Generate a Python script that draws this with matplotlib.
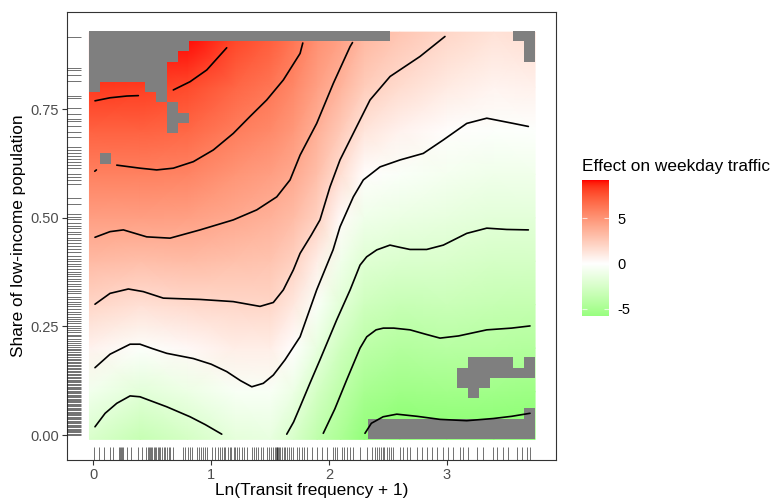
import numpy as np
import matplotlib
matplotlib.use("Agg")
import matplotlib.pyplot as plt
from matplotlib.colors import ListedColormap, Normalize
from matplotlib.transforms import blended_transform_factory

plt.rcParams['font.family'] = ['Liberation Sans', 'DejaVu Sans']

# ---- fitted surface (rows = y nodes, cols = x nodes)
x_nodes = [-0.033, 0.4, 0.8, 1.2, 1.5, 1.7, 1.9, 2.1, 2.3, 2.6, 3.0, 3.4, 3.75]
y_nodes = [-0.01, 0.1, 0.2, 0.3, 0.4, 0.5, 0.6, 0.7, 0.8, 0.927]
effect = [
    [-2.4, -3.5, -2.7, -1.7, -1.5, -2.5, -3.9, -4.9, -6.0, -6.6, -6.5, -6.5, -6.6],
    [-0.8, -1.8, -1.2, -0.5, -0.4, -1.2, -2.7, -3.95, -5.0, -5.45, -5.3, -5.4, -5.5],
    [0.6, -0.15, 0.3, 0.8, 0.8, 0.0, -1.5, -3.0, -4.0, -4.45, -4.2, -4.4, -4.5],
    [2.0, 1.5, 1.8, 1.95, 2.0, 1.1, -0.35, -1.85, -3.0, -3.4, -3.3, -3.5, -3.55],
    [3.3, 3.1, 3.2, 3.0, 2.85, 2.2, 0.85, -0.9, -2.0, -2.3, -2.35, -2.65, -2.65],
    [4.6, 4.6, 4.5, 4.05, 3.7, 3.2, 2.2, 0.25, -0.95, -1.3, -1.5, -1.8, -1.8],
    [5.9, 5.9, 5.75, 5.05, 4.6, 4.1, 3.05, 1.55, 0.1, -0.3, -0.7, -1.0, -0.9],
    [7.1, 7.1, 6.9, 6.05, 5.5, 4.85, 3.8, 2.6, 1.3, 0.65, 0.12, -0.2, -0.1],
    [8.4, 8.3, 7.9, 7.0, 6.35, 5.6, 4.5, 3.55, 2.4, 1.7, 1.0, 0.55, 0.7],
    [9.5, 9.5, 9.2, 8.2, 7.4, 6.5, 5.3, 4.6, 3.5, 2.8, 2.0, 1.4, 1.6],
]
fill_limits = (-5.8, 9.25)

# raster of 40x40 cells, gray where the surface is not shown: (row, first col, last col)
n_grid = 40
raster_extent = [-0.033, 3.75, -0.0099, 0.9268]
gray_runs = [
    (39, 0, 26), (39, 38, 39), (38, 0, 8), (38, 39, 39), (37, 0, 7), (37, 39, 39),
    (36, 0, 6), (35, 0, 6), (34, 0, 0), (34, 5, 6), (33, 6, 6), (32, 7, 7),
    (31, 7, 8), (30, 7, 7), (27, 1, 1),
    (7, 34, 37), (7, 39, 39), (6, 33, 39), (5, 33, 35), (4, 34, 34),
    (2, 39, 39), (1, 25, 39), (0, 25, 39),
]

# ---- contour lines (x, y)
contours = [
    ([2.306, 2.36, 2.46, 2.576, 2.75, 2.943, 3.17, 3.396, 3.55, 3.707],
     [0.004, 0.027, 0.042, 0.048, 0.043, 0.036, 0.033, 0.038, 0.043, 0.05]),
    ([1.952, 2.05, 2.151, 2.264, 2.321, 2.40, 2.462, 2.55, 2.689, 2.82, 2.943, 3.1, 3.34, 3.55, 3.707],
     [0.004, 0.06, 0.127, 0.2, 0.226, 0.242, 0.246, 0.246, 0.242, 0.232, 0.223, 0.228, 0.242, 0.246, 0.251]),
    ([0.014, 0.1, 0.199, 0.312, 0.396, 0.623, 0.821, 0.95, 1.09],
     [0.019, 0.05, 0.073, 0.09, 0.088, 0.065, 0.042, 0.024, 0.002]),
    ([1.642, 1.70, 1.755, 1.84, 1.924, 2.066, 2.18, 2.264, 2.32, 2.406, 2.518, 2.6, 2.688, 2.83,
      2.971, 3.17, 3.34, 3.509, 3.693],
     [0.002, 0.03, 0.065, 0.12, 0.173, 0.265, 0.334, 0.391, 0.41, 0.426, 0.437, 0.432, 0.427, 0.427,
      0.437, 0.464, 0.476, 0.473, 0.472]),
    ([0.014, 0.142, 0.312, 0.396, 0.5, 0.623, 0.849, 1.0, 1.132, 1.25, 1.345, 1.443, 1.528, 1.627,
      1.755, 1.896, 2.035, 2.094, 2.207, 2.292, 2.434, 2.604, 2.801, 2.971, 3.17, 3.34, 3.565, 3.693],
     [0.155, 0.186, 0.209, 0.209, 0.199, 0.188, 0.176, 0.163, 0.146, 0.125, 0.111, 0.119, 0.138, 0.173,
      0.226, 0.334, 0.426, 0.479, 0.548, 0.587, 0.617, 0.633, 0.648, 0.679, 0.717, 0.729, 0.717, 0.71]),
    ([0.014, 0.142, 0.297, 0.424, 0.594, 0.906, 1.188, 1.415, 1.528, 1.613, 1.698, 1.755, 1.85, 1.924,
      2.009, 2.094, 2.236, 2.349, 2.519, 2.773, 2.985],
     [0.301, 0.326, 0.336, 0.33, 0.315, 0.312, 0.307, 0.296, 0.305, 0.334, 0.38, 0.418, 0.46, 0.495,
      0.571, 0.633, 0.71, 0.771, 0.825, 0.871, 0.917]),
    ([0.014, 0.142, 0.255, 0.453, 0.651, 0.906, 1.188, 1.387, 1.557, 1.67, 1.755, 1.896, 2.037, 2.18, 2.2],
     [0.455, 0.468, 0.472, 0.456, 0.453, 0.472, 0.495, 0.518, 0.548, 0.587, 0.644, 0.717, 0.809, 0.894, 0.903]),
    ([0.012, 0.026], [0.607, 0.61]),
    ([0.199, 0.396, 0.538, 0.679, 0.849, 1.019, 1.188, 1.33, 1.472, 1.613, 1.755, 1.778],
     [0.621, 0.614, 0.61, 0.614, 0.629, 0.656, 0.694, 0.733, 0.771, 0.817, 0.878, 0.902]),
    ([0.014, 0.142, 0.284, 0.382], [0.769, 0.776, 0.78, 0.781]),
    ([0.679, 0.821, 0.963, 1.132], [0.794, 0.813, 0.84, 0.891]),
]

# ---- rugs (observations)
rug_x = [0.008, 0.051, 0.091, 0.142, 0.17, 0.221, 0.23, 0.238, 0.246, 0.255, 0.283, 0.32, 0.382,
         0.411, 0.447, 0.46, 0.47, 0.478, 0.49, 0.5, 0.512, 0.52, 0.535, 0.548, 0.556, 0.57, 0.585,
         0.6, 0.612, 0.625, 0.64, 0.651, 0.679, 0.764, 0.78, 0.8, 0.818, 0.835, 0.878, 0.9, 0.915,
         0.93, 0.948, 0.963, 1.005, 1.03, 1.061, 1.076, 1.09, 1.105, 1.12, 1.14, 1.158, 1.17, 1.19,
         1.205, 1.22, 1.24, 1.26, 1.275, 1.302, 1.345, 1.36, 1.38, 1.4, 1.425, 1.443, 1.472, 1.49,
         1.51, 1.528, 1.542, 1.548, 1.555, 1.562, 1.568, 1.575, 1.585, 1.6, 1.615, 1.63, 1.648,
         1.665, 1.68, 1.698, 1.727, 1.75, 1.77, 1.79, 1.812, 1.854, 1.897, 1.94, 1.982, 2.037,
         2.05, 2.066, 2.109, 2.13, 2.15, 2.179, 2.207, 2.264, 2.32, 2.363, 2.391, 2.41, 2.425,
         2.44, 2.455, 2.47, 2.49, 2.51, 2.53, 2.547, 2.604, 2.632, 2.66, 2.688, 2.745, 2.787,
         2.83, 2.872, 2.915, 2.971, 3.013, 3.056, 3.112, 3.14, 3.183, 3.254, 3.31, 3.395, 3.424,
         3.48, 3.522, 3.593, 3.636, 3.678, 3.706]
rug_y = [0.915, 0.845, 0.841, 0.829, 0.815, 0.781, 0.776, 0.752, 0.739, 0.727, 0.723, 0.712, 0.697,
         0.686, 0.662, 0.655, 0.649, 0.641, 0.636, 0.628, 0.621, 0.614, 0.601, 0.593, 0.586, 0.577,
         0.546, 0.531, 0.509, 0.502, 0.497, 0.489, 0.481, 0.476, 0.468, 0.463, 0.454, 0.449, 0.441,
         0.434, 0.428, 0.42, 0.412, 0.405, 0.401, 0.394, 0.389, 0.383, 0.376, 0.371, 0.366, 0.359,
         0.354, 0.347, 0.343, 0.336, 0.331, 0.326, 0.318, 0.312, 0.307, 0.301, 0.296, 0.29, 0.284,
         0.279, 0.272, 0.268, 0.262, 0.257, 0.25, 0.246, 0.241, 0.236, 0.231, 0.228, 0.221, 0.217,
         0.212, 0.208, 0.203, 0.199, 0.195, 0.191, 0.187, 0.183, 0.179, 0.176, 0.172, 0.168, 0.165,
         0.161, 0.158, 0.154, 0.151, 0.147, 0.144, 0.141, 0.137, 0.134, 0.131, 0.127, 0.124, 0.121,
         0.118, 0.114, 0.111, 0.108, 0.105, 0.102, 0.099, 0.096, 0.093, 0.09, 0.087, 0.084, 0.081,
         0.078, 0.075, 0.072, 0.069, 0.066, 0.063, 0.06, 0.057, 0.054, 0.051, 0.048, 0.045, 0.042,
         0.039, 0.036, 0.033, 0.03, 0.027, 0.024, 0.021, 0.018, 0.015, 0.012, 0.009, 0.006, 0.003,
         0.001]

x_ticks = [0, 1, 2, 3]
x_ticklabels = ["0", "1", "2", "3"]
y_ticks = [0.0, 0.25, 0.5, 0.75]
y_ticklabels = ["0.00", "0.25", "0.50", "0.75"]
legend_ticks = [-5, 0, 5]
legend_ticklabels = ["-5", "0", "5"]


# diverging green-white-red palette, interpolated in Lab like ggplot's gradient2
def srgb_to_lab(rgb):
    c = np.asarray(rgb, float)
    lin = np.where(c > 0.04045, ((c + 0.055) / 1.055) ** 2.4, c / 12.92)
    M = np.array([[0.4124, 0.3576, 0.1805], [0.2126, 0.7152, 0.0722], [0.0193, 0.1192, 0.9505]])
    xyz = M @ lin / np.array([0.95047, 1.0, 1.08883])
    f = np.where(xyz > 0.008856, np.cbrt(xyz), 7.787 * xyz + 16 / 116)
    return np.array([116 * f[1] - 16, 500 * (f[0] - f[1]), 200 * (f[1] - f[2])])


def lab_to_srgb(lab):
    L, a, b = lab
    fy = (L + 16) / 116
    f = np.array([fy + a / 500, fy, fy - b / 200])
    xyz = np.where(f > 0.2069, f ** 3, (f - 16 / 116) / 7.787) * np.array([0.95047, 1.0, 1.08883])
    Minv = np.array([[3.2406, -1.5372, -0.4986], [-0.9689, 1.8758, 0.0415], [0.0557, -0.2040, 1.0570]])
    lin = np.clip(Minv @ xyz, 0, 1)
    c = np.where(lin > 0.0031308, 1.055 * lin ** (1 / 2.4) - 0.055, 12.92 * lin)
    return np.clip(c, 0, 1)


low, mid, high = srgb_to_lab([0, 1, 0]), srgb_to_lab([1, 1, 1]), srgb_to_lab([1, 0, 0])
colours = []
for t in np.linspace(0, 1, 256):
    if t < 0.5:
        lab = low + (mid - low) * (t / 0.5)
    else:
        lab = mid + (high - mid) * ((t - 0.5) / 0.5)
    colours.append(lab_to_srgb(lab))
cmap = ListedColormap(colours)
zmax = max(abs(fill_limits[0]), abs(fill_limits[1]))
norm = Normalize(-zmax, zmax)

fig = plt.figure(figsize=(7.74, 5.01), dpi=100)
ax = fig.add_axes([0.0862, 0.0818, 0.6322, 0.8948])

ax.pcolormesh(x_nodes, y_nodes, np.array(effect), shading='gouraud', cmap=cmap, norm=norm,
              rasterized=True, zorder=1)

mask = np.full((n_grid, n_grid), np.nan)
for row, c0, c1 in gray_runs:
    mask[row, c0:c1 + 1] = 1
ax.imshow(mask, origin='lower', extent=raster_extent, aspect='auto', interpolation='nearest',
          cmap=ListedColormap(['#7f7f7f']), vmin=0, vmax=2, zorder=2)

for cx, cy in contours:
    ax.plot(cx, cy, color='black', lw=1.2, solid_capstyle='round', solid_joinstyle='round', zorder=3)

tx = blended_transform_factory(ax.transData, ax.transAxes)
ty = blended_transform_factory(ax.transAxes, ax.transData)
ax.vlines(rug_x, 0, 0.03, transform=tx, color='black', lw=0.6, alpha=0.65, zorder=3)
ax.hlines(rug_y, 0, 0.03, transform=ty, color='black', lw=0.6, alpha=0.65, zorder=3)

ax.set_xlim(-0.226, 3.928)
ax.set_ylim(-0.0575, 0.974)
ax.set_xticks(x_ticks)
ax.set_xticklabels(x_ticklabels)
ax.set_yticks(y_ticks)
ax.set_yticklabels(y_ticklabels)
ax.tick_params(length=3.3, width=0.8, color='#333333', labelcolor='#4d4d4d', labelsize=10.5, pad=2.5)
for s in ax.spines.values():
    s.set_color('#333333')
    s.set_linewidth(0.8)

fig.text(311.5 / 774, 1 - 491 / 501, "Ln(Transit frequency + 1)", ha='center', va='center', fontsize=12.4)
fig.text(19 / 774, 1 - 236 / 501, "Share of low-income population", ha='center', va='center',
         rotation=90, fontsize=12.4)

# legend colour bar
cax = fig.add_axes([582 / 774, 1 - 316 / 501, 27 / 774, 136 / 501])
bar = np.linspace(fill_limits[0], fill_limits[1], 300).reshape(-1, 1)
cax.imshow(bar, origin='lower', extent=[0, 1, fill_limits[0], fill_limits[1]], aspect='auto',
           cmap=cmap, norm=norm)
cax.hlines(legend_ticks, 0, 0.2, color='white', lw=0.8, alpha=0.7)
cax.hlines(legend_ticks, 0.8, 1, color='white', lw=0.8, alpha=0.7)
cax.set_xlim(0, 1)
cax.set_ylim(*fill_limits)
cax.set_xticks([])
cax.yaxis.tick_right()
cax.set_yticks(legend_ticks)
cax.set_yticklabels(legend_ticklabels)
cax.tick_params(length=0, labelsize=10.5, pad=6, labelcolor='black')
for s in cax.spines.values():
    s.set_visible(False)
fig.text(582 / 774, 1 - 171 / 501, "Effect on weekday traffic", ha='left', va='baseline', fontsize=12.4)

fig.savefig('out.png', dpi=100)
